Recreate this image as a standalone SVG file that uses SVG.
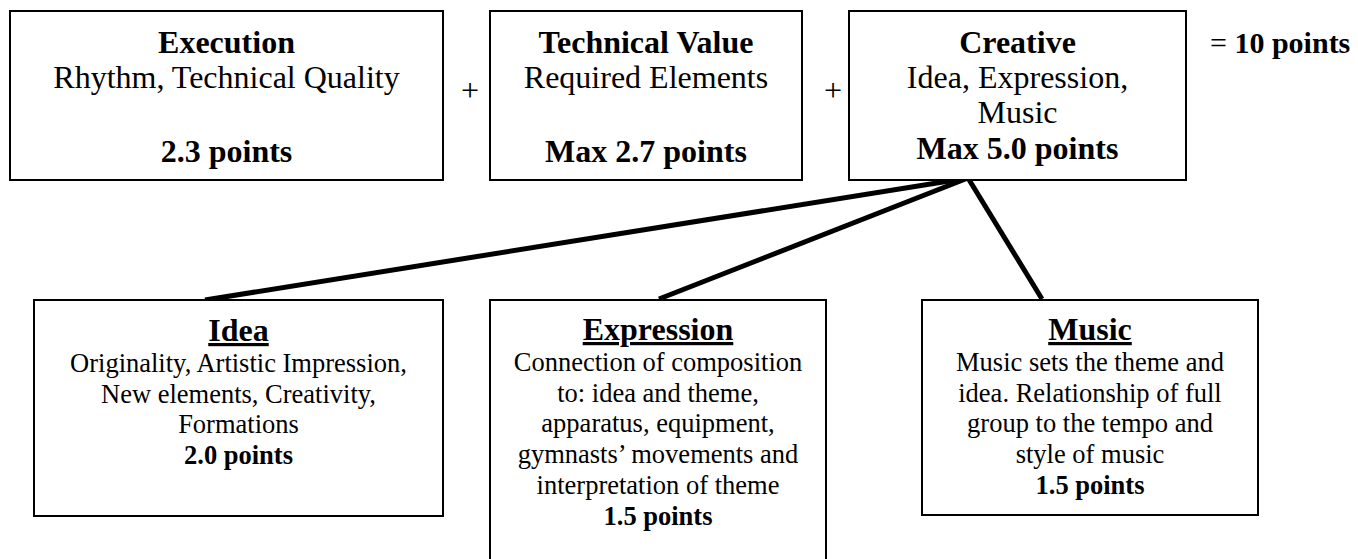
<svg xmlns="http://www.w3.org/2000/svg" width="1358" height="559" viewBox="0 0 1358 559">
<style>
text{font-family:"Times New Roman",Times,"Liberation Serif",Tinos,"Noto Serif","DejaVu Serif",serif;fill:#000;text-anchor:middle}
.box{fill:#fff;stroke:#000;stroke-width:2}
.t{font-size:32px}
.h{font-size:32px;font-weight:bold}
.s{font-size:26.5px}
.b{font-size:26.5px;font-weight:bold}
.u{text-decoration:underline}
.conn line{stroke:#000;stroke-width:5}
</style>
<rect width="1358" height="559" fill="#fff"/>
<g class="conn" id="connectors">
<line x1="968" y1="178" x2="205" y2="300"/>
<line x1="968" y1="178" x2="659" y2="299"/>
<line x1="968" y1="178" x2="1042" y2="299"/>
</g>
<g id="execution">
<rect class="box" x="10" y="11" width="433" height="169"/>
<text class="h" x="226.5" y="53">Execution</text>
<text class="t" x="226.5" y="88">Rhythm, Technical Quality</text>
<text class="h" x="226.5" y="162">2.3 points</text>
</g>
<text class="t" x="470" y="101">+</text>
<g id="technical">
<rect class="box" x="490" y="11" width="312" height="169"/>
<text class="h" x="646" y="53">Technical Value</text>
<text class="t" x="646" y="88">Required Elements</text>
<text class="h" x="646" y="162">Max 2.7 points</text>
</g>
<text class="t" x="833" y="101">+</text>
<g id="creative">
<rect class="box" x="849" y="11" width="337" height="169"/>
<text class="h" x="1017.5" y="53">Creative</text>
<text class="t" x="1017.5" y="88">Idea, Expression,</text>
<text class="t" x="1017.5" y="123">Music</text>
<text class="h" x="1017.5" y="159">Max 5.0 points</text>
</g>
<text x="1210" y="53" style="text-anchor:start;font-size:30px"><tspan>= </tspan><tspan font-weight="bold">10 points</tspan></text>
<g id="idea">
<rect class="box" x="34" y="300" width="409" height="216"/>
<text class="h u" x="238.5" y="341">Idea</text>
<text class="s" x="238.5" y="372">Originality, Artistic Impression,</text>
<text class="s" x="238.5" y="403">New elements, Creativity,</text>
<text class="s" x="238.5" y="433">Formations</text>
<text class="b" x="238.5" y="464">2.0 points</text>
</g>
<g id="expression">
<rect class="box" x="490" y="300" width="336" height="270"/>
<text class="h u" x="658" y="340">Expression</text>
<text class="s" x="658" y="371">Connection of composition</text>
<text class="s" x="658" y="402">to: idea and theme,</text>
<text class="s" x="658" y="432">apparatus, equipment,</text>
<text class="s" x="658" y="463">gymnasts’ movements and</text>
<text class="s" x="658" y="494">interpretation of theme</text>
<text class="b" x="658" y="525">1.5 points</text>
</g>
<g id="music">
<rect class="box" x="922" y="300" width="336" height="215"/>
<text class="h u" x="1090" y="340">Music</text>
<text class="s" x="1090" y="371">Music sets the theme and</text>
<text class="s" x="1090" y="402">idea. Relationship of full</text>
<text class="s" x="1090" y="432">group to the tempo and</text>
<text class="s" x="1090" y="463">style of music</text>
<text class="b" x="1090" y="494">1.5 points</text>
</g>
</svg>
